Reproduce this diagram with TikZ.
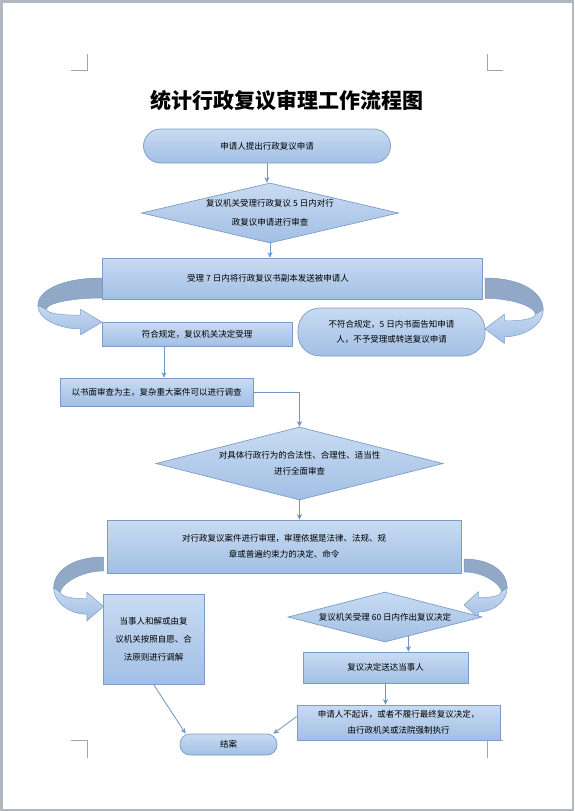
\documentclass[tikz,border=0pt]{standalone}
\usepackage{fontspec}
\newfontfamily\cjk{Noto Sans CJK SC}
\usepackage{tikz}
\usetikzlibrary{positioning,arrows.meta,shapes.geometric,calc}
\usepackage{xcolor}

\definecolor{boxtop}{HTML}{C8DBF2}
\definecolor{boxbot}{HTML}{A2BFE4}
\definecolor{boxedge}{HTML}{7C9CC8}
\definecolor{linkcol}{HTML}{7094C4}
\definecolor{ribdark}{HTML}{91A8C6}
\definecolor{pagegray}{HTML}{B3B7C0}
\definecolor{cropgray}{HTML}{A5A5A5}

% curved block arrow, drawn at the box edge; #1 = band width
\newcommand{\bendarrow}[1]{%
  \path[ribback] (0,0) .. controls (-40,0) and (-60,14) .. (-60,28) -- (-52,32)
    .. controls (-52,26) and (-30,#1) .. (0,#1) -- cycle;
  \path[ribfront] (-60,28) .. controls (-60,42) and (-40,52) .. (-20,52) -- (-20,58)
    -- (0,45) -- (-20,32) -- (-20,38) .. controls (-38,38) and (-52,36) .. (-52,32) -- cycle;
}

\begin{document}
\begin{tikzpicture}[x=1pt,y=-1pt]
    \tikzstyle{blk}=[draw=boxedge,line width=0.7pt,top color=boxtop,bottom color=boxbot,inner sep=0pt,align=center,font=\cjk\fontsize{8.5}{16}\selectfont]
    \tikzstyle{term}=[blk,rounded corners=17pt]
    \tikzstyle{dec}=[blk,diamond]
    \tikzstyle{link}=[draw=linkcol,line width=0.8pt,-{Stealth[length=5.5pt,width=5pt]}]
    \tikzstyle{ribback}=[fill=ribdark,draw=boxedge,line width=0.5pt]
    \tikzstyle{ribfront}=[top color=boxtop,bottom color=boxbot,draw=boxedge,line width=0.5pt]
    \tikzstyle{crop}=[draw=cropgray,line width=0.6pt]
    \useasboundingbox (0,0) rectangle (574,811);

    % crop marks of the page
    \draw[crop] (71,70) -- (87,70) -- (87,54);
    \draw[crop] (503,70) -- (487,70) -- (487,54);
    \draw[crop] (71,740) -- (87,740) -- (87,758);
    \draw[crop] (503,740) -- (487,740) -- (487,758);

    % curved arrows (under the boxes)
    \begin{scope}[shift={(102,278)},xscale=1.07,yscale=0.98] \bendarrow{20.4} \end{scope}
    \begin{scope}[shift={(485,278)},xscale=-0.97,yscale=1.13] \bendarrow{18} \end{scope}
    \begin{scope}[shift={(103.5,557)},xscale=0.83,yscale=1.1] \bendarrow{12.7} \end{scope}
    \begin{scope}[shift={(464,559)},xscale=-0.72,yscale=1.02] \bendarrow{12.7} \end{scope}

    \node[font=\cjk\bfseries\fontsize{21}{24}\selectfont] (title) at (287,101) {统计行政复议审理工作流程图};
    \node[term,minimum width=247pt,minimum height=34pt] (apply) at (267,146) {申请人提出行政复议申请};
    \node[dec,minimum width=257pt,minimum height=60pt,shape aspect=4.3] (accept) at (270,213) {复议机关受理行政复议 5 日内对行\\[3pt]政复议申请进行审查};
    \node[blk,minimum width=380pt,minimum height=41pt] (copy) at (292,278.5) {受理 7 日内将行政复议书副本发送被申请人\hspace*{48pt}};
    \node[blk,minimum width=190pt,minimum height=24pt] (ok) at (197,334) {符合规定，复议机关决定受理};
    \node[term,rounded corners=22pt,minimum width=187pt,minimum height=48pt] (reject) at (391.5,332) {不符合规定，5 日内书面告知申请\\[-1pt]人，不予受理或转送复议申请};
    \node[blk,minimum width=193pt,minimum height=28pt] (review) at (156.5,392) {以书面审查为主，复杂重大案件可以进行调查};
    \node[dec,minimum width=287pt,minimum height=73pt,shape aspect=3.9] (check) at (299.5,463.5) {对具体行政行为的合法性、合理性、适当性\\进行全面审查};
    \node[blk,minimum width=354pt,minimum height=53pt] (hear) at (284,546.5) {对行政复议案件进行审理，审理依据是法律、法规、规\\章或普遍约束力的决定、命令};
    \node[blk,minimum width=101pt,minimum height=90pt] (mediate) at (153.5,639) {当事人和解或由复\\[2pt]议机关按照自愿、合\\[2pt]法原则进行调解};
    \node[dec,minimum width=194pt,minimum height=50pt,shape aspect=3.9] (decide) at (385,617) {复议机关受理 60 日内作出复议决定};
    \node[blk,minimum width=165pt,minimum height=31pt] (deliver) at (385.5,667.5) {复议决定送达当事人};
    \node[blk,minimum width=203pt,minimum height=35pt] (enforce) at (398.5,722.5) {申请人不起诉，或者不履行最终复议决定，\\由行政机关或法院强制执行};
    \node[term,rounded corners=10pt,minimum width=97pt,minimum height=21pt] (close) at (228.5,744.5) {结案};

    \coordinate (dtap) at ($(decide.south)!0.24!(decide.east)$);

    \draw[link] (apply.south) -- (apply.south |- accept.north);
    \draw[link] (accept.south) -- (accept.south |- copy.north);
    \draw[link] ([xshift=-33pt]ok.south) -- ([xshift=-33pt]ok.south |- review.north);
    \draw[link] (review.east) -| (check.north);
    \draw[link] (check.south) -- (check.south |- hear.north);
    \draw[link] (dtap) -- (dtap |- deliver.north);
    \draw[link] (deliver.south) -- (deliver.south |- enforce.north);
    \draw[link] (mediate.south) -- ([xshift=6pt]close.north west);
    \draw[link] ([yshift=6pt]enforce.west) -- ([xshift=-4pt]close.north east);

    % page frame
    \draw[pagegray,line width=2.5pt] (1.25,1.25) rectangle (572.75,809.75);
\end{tikzpicture}
\end{document}
